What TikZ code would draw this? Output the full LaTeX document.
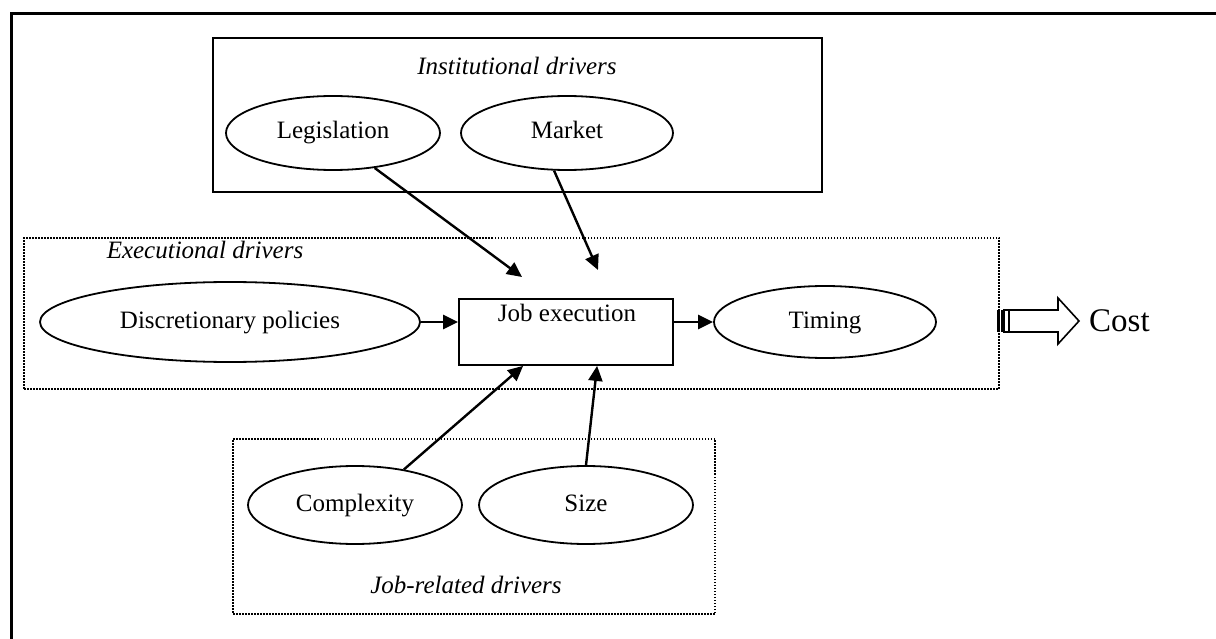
\documentclass[tikz,border=0pt]{standalone}
\usepackage{fontspec}
\setmainfont{Liberation Serif}
\usetikzlibrary{shapes.geometric,arrows.meta}
\begin{document}
\begin{tikzpicture}[x=1pt,y=-1pt,
  txt/.style={font=\fontsize{25}{29}\selectfont,inner sep=0pt,text height=17pt,text depth=5pt},
  oval/.style={ellipse,draw,line width=1.8pt,inner sep=0pt,font=\fontsize{25}{29}\selectfont,text height=17pt,text depth=5pt},
  solidbox/.style={draw,line width=1.8pt,inner sep=0pt},
  dotbox/.style={draw,line width=1.5pt,dash pattern=on 1.5pt off 1.5pt,inner sep=0pt},
  arr/.style={line width=2.4pt,-{Triangle[length=15pt,width=14pt]}},
  lbl/.style={font=\fontsize{25}{29}\selectfont\itshape,inner sep=0pt,text height=17pt,text depth=5pt},
  bigarrow/.style={draw,line width=1.6pt,line join=miter}
]
\useasboundingbox (0,0) rectangle (1216,639);
% outer frame (left and top edges)
\draw[line width=3pt] (11,639) -- (11,14) -- (1216,14);

% group boxes
\node[solidbox, minimum width=609pt, minimum height=154pt] (inst) at (517.5,115) {};
\node[dotbox, minimum width=975pt, minimum height=151pt] (exec) at (511.5,313.5) {};
\node[dotbox, minimum width=482pt, minimum height=175pt] (jobrel) at (474,526.5) {};

% group labels
\node[lbl] (instl) at (517,69) {Institutional drivers};
\node[lbl] (execl) at (205,253) {Executional drivers};
\node[lbl] (jobrell) at (466,587) {Job-related drivers};

% ellipses
\node[oval, minimum width=214pt, minimum height=74pt] (leg) at (333,133) {Legislation};
\node[oval, minimum width=212pt, minimum height=74pt] (mkt) at (567,133) {Market};
\node[oval, minimum width=380pt, minimum height=80pt] (disc) at (230,322) {Discretionary policies};
\node[oval, minimum width=222pt, minimum height=72pt] (tim) at (825,322) {Timing};
\node[oval, minimum width=214pt, minimum height=78pt] (cpx) at (355,505) {Complexity};
\node[oval, minimum width=214pt, minimum height=78pt] (siz) at (586,505) {Size};

% job execution box
\node[solidbox, minimum width=214pt, minimum height=66pt] (job) at (566,332) {};
\node[txt] (jobt) at (567,315) {Job execution};

% arrow tips above the box
\coordinate (legtip) at (522,277);
\coordinate (mkttip) at (598,270);

\draw[arr] (leg.-40) -- (legtip);
\draw[arr] (mkt.-109) -- (mkttip);
\draw[arr] (cpx.36) -- ([xshift=65pt]job.south west);
\draw[arr] (siz.north) -- ([xshift=139pt]job.south west);
\draw[arr] (disc.east) -- (disc.east -| job.west);
\draw[arr] (job.east |- tim.west) -- (tim.west);

% Cost block arrow
\fill (997,310) rectangle (999.5,332);
\fill (1001,310) rectangle (1002.5,332);
\draw[line width=1.3pt] (1004,310) rectangle (1009,332);
\draw[bigarrow] (1009,310) -- (1058,310) -- (1058,298) -- (1079,321) -- (1058,344) -- (1058,332) -- (1009,332) -- cycle;
\node[font=\fontsize{33}{37}\selectfont, anchor=west, inner sep=0pt] (cost) at (1089,321) {Cost};
\end{tikzpicture}
\end{document}
